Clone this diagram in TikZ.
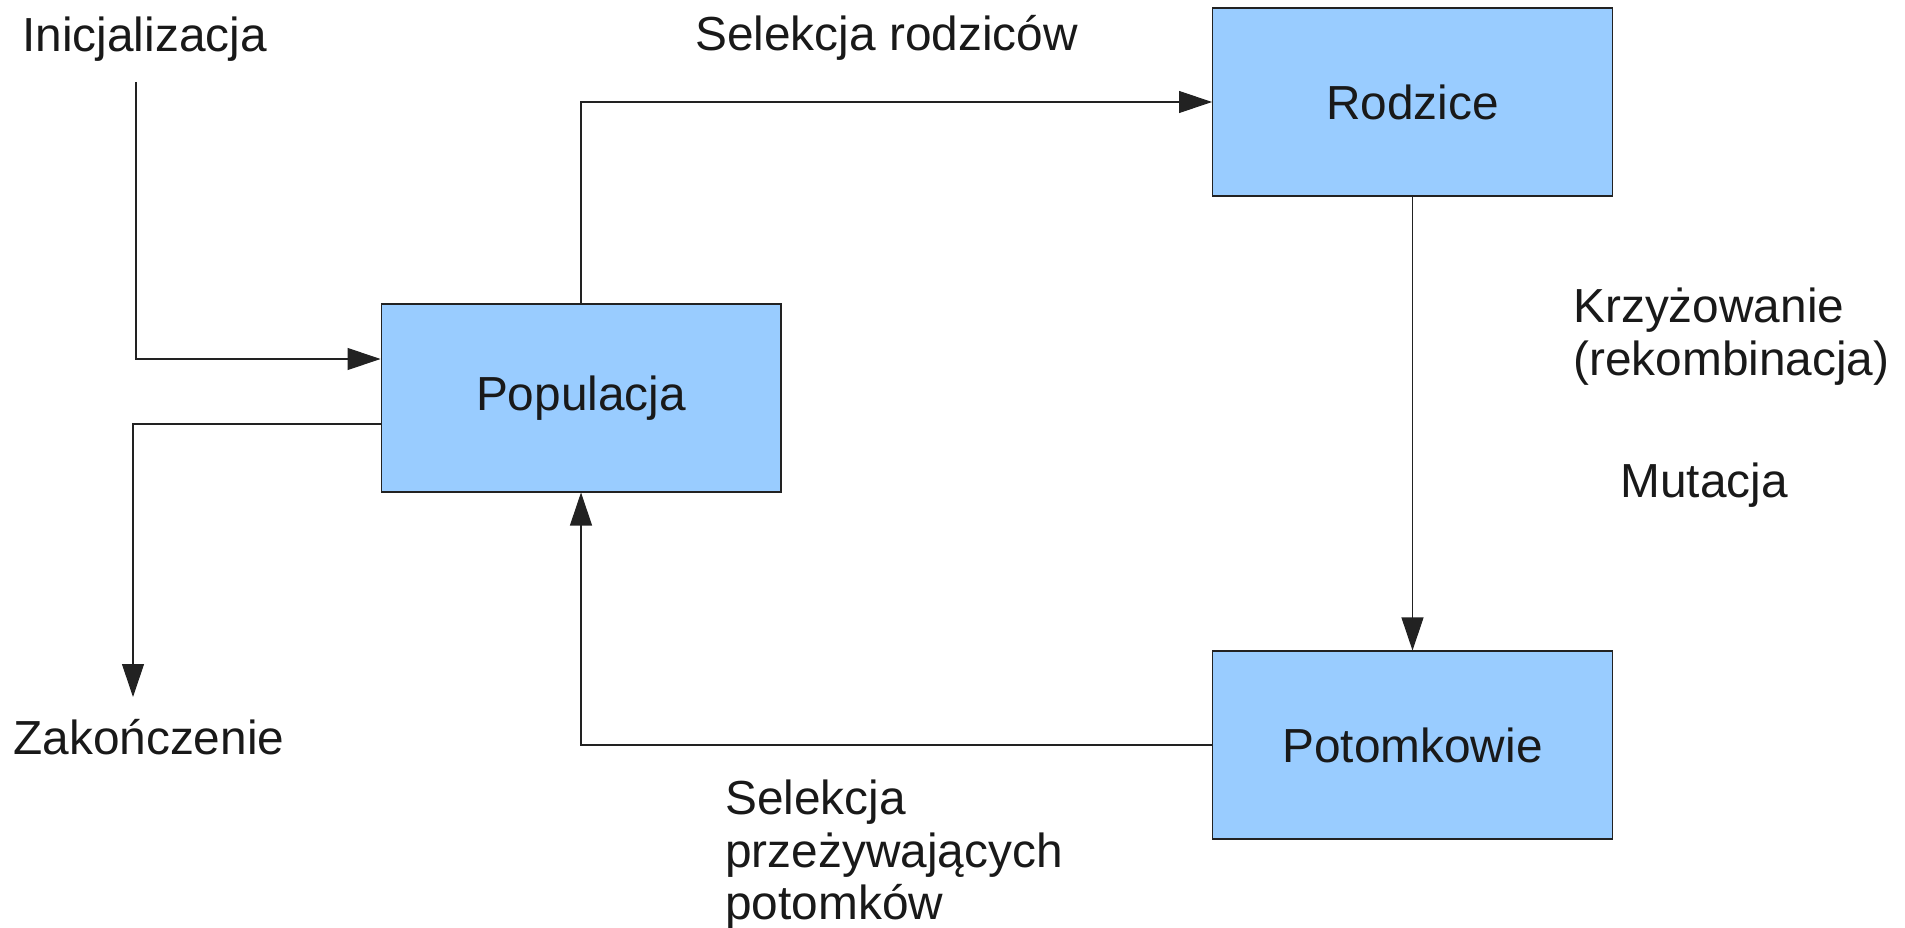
\documentclass[tikz,border=0pt]{standalone}
\usepackage{fontspec}
\setmainfont{Liberation Sans}
\usetikzlibrary{arrows.meta,calc}
\definecolor{boxfill}{HTML}{99CCFF}
\definecolor{linecol}{HTML}{222222}
\begin{document}
\begin{tikzpicture}[x=0.02cm,y=-0.02cm,
  every node/.style={font=\fontsize{27.2}{29.8}\selectfont, text=black!90},
  blk/.style={draw=linecol, fill=boxfill, line width=0.6pt, minimum width=8cm, minimum height=3.76cm, inner sep=0pt},
  lbl/.style={inner sep=0pt, align=left},
  conn/.style={draw=linecol, line width=0.6pt, -{Triangle[length=0.66cm,width=0.44cm]}}
]
\useasboundingbox (0,0) rectangle (1905,928);
\node[blk] (pop) at (581,398) {Populacja};
\node[blk] (rod) at (1412.5,102) {Rodzice};
\node[blk] (pot) at (1412.5,745) {Potomkowie};

\node[lbl, anchor=base west] (init) at (22,52) {Inicjalizacja};
\node[lbl, anchor=base west] (end) at (13,754) {Zakończenie};
\node[lbl, anchor=base west] (selr) at (695,51) {Selekcja rodziców};
\node[lbl, anchor=north west] (selp) at (725,780) {Selekcja\\przeżywających\\potomków};
\node[lbl, anchor=north west] (krz) at (1573,288) {Krzyżowanie\\(rekombinacja)};
\node[lbl, anchor=base west] (mut) at (1620,498) {Mutacja};

\coordinate (initstart) at (136,82);
\coordinate (endtip) at (133,697);

\draw[conn] (pop.north) |- (rod.west);
\draw[conn] (rod.south) -- (pot.north);
\draw[conn] (pot.west) -| (pop.south);
\draw[conn] (initstart) |- ([yshift=0.78cm]pop.west);
\draw[conn] ([yshift=-0.52cm]pop.west) -| (endtip);
\end{tikzpicture}
\end{document}
